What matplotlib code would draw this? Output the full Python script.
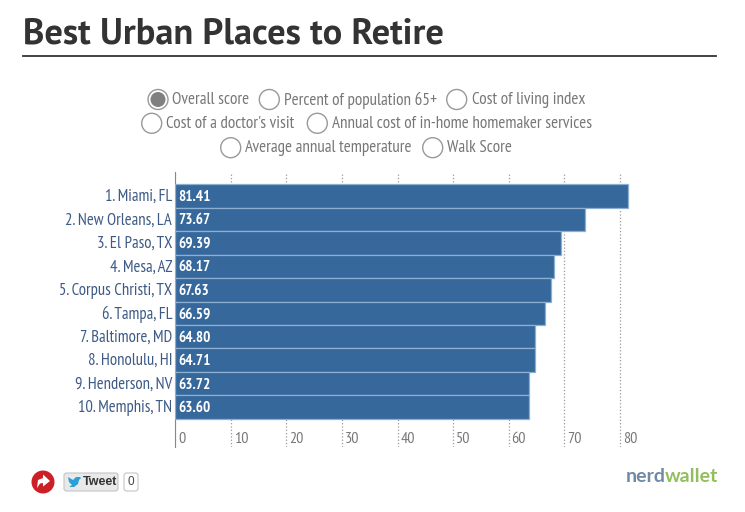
import matplotlib
matplotlib.use('Agg')
import matplotlib.pyplot as plt
from matplotlib.patches import Circle, FancyBboxPatch, Polygon

cities = ['1. Miami, FL', '2. New Orleans, LA', '3. El Paso, TX', '4. Mesa, AZ', '5. Corpus Christi, TX',
          '6. Tampa, FL', '7. Baltimore, MD', '8. Honolulu, HI', '9. Henderson, NV', '10. Memphis, TN']
scores = [81.41, 73.67, 69.39, 68.17, 67.63, 66.59, 64.80, 64.71, 63.72, 63.60]
xticks = [0, 10, 20, 30, 40, 50, 60, 70, 80]
options = ['Overall score', 'Percent of population 65+', 'Cost of living index', "Cost of a doctor's visit",
           'Annual cost of in-home homemaker services', 'Average annual temperature', 'Walk Score']

W, H = 745, 512
narrow = ['PT Sans Narrow', 'Archivo Narrow', 'Liberation Sans', 'DejaVu Sans']
wide = ['PT Sans', 'Open Sans', 'DejaVu Sans']
bar_color = '#36689c'

fig = plt.figure(figsize=(W / 100, H / 100), dpi=100)

# overlay in pixel coordinates for the page furniture
page = fig.add_axes([0, 0, 1, 1])
page.set_xlim(0, W)
page.set_ylim(H, 0)
page.axis('off')

page.text(23, 33.5, 'Best Urban Places to Retire', fontsize=26.2, fontweight='bold', family=wide,
          color='#333333', va='center', ha='left')
page.plot([23, 716], [55.5, 55.5], color='#333333', lw=1.3)

# radio buttons
radios = [(158, 99.5, 172), (269.3, 99.5, 284), (456.7, 99.5, 471.7), (151.7, 123.3, 165.7),
          (317.3, 123.3, 331.7), (230.7, 147.7, 245), (432.7, 147.7, 447)]
for i, (cx, cy, tx) in enumerate(radios):
    page.add_patch(Circle((cx, cy), 10, fc='white', ec='#999999', lw=1))
    if i == 0:
        page.add_patch(Circle((cx, cy), 7.5, fc='#808080', ec='none'))
    page.text(tx, cy + 0.8, options[i], fontsize=12.25, family=narrow, color='#777777', va='center', ha='left')

# chart
left, right, top, bottom = 175.2, 640, 172, 447
ax = fig.add_axes([left / W, 1 - bottom / H, (right - left) / W, (bottom - top) / H])
ax.patch.set_alpha(0)
ax.set_xlim(0, (right - left) / 5.56)
ax.set_ylim(10.707, -1.025)
ax.barh(range(len(scores)), scores, height=1, color=bar_color, edgecolor='#8db0d2', linewidth=0.9, zorder=3)
ax.set_xticks(xticks)
ax.set_yticks([])
ax.tick_params(length=0, labelbottom=False)
ax.grid(axis='x', color='#999999', linestyle=':', linewidth=0.9, zorder=1)
for s in ['top', 'right', 'bottom']:
    ax.spines[s].set_visible(False)
ax.spines['left'].set_color('#888888')

for i, (c, v) in enumerate(zip(cities, scores)):
    ax.annotate(c, (0, i), xytext=(-2.2, -0.7), textcoords='offset points', ha='right', va='center',
                fontsize=12, family=narrow, color='#3d5a86')
    ax.annotate('%.2f' % v, (0, i), xytext=(2, -0.7), textcoords='offset points', ha='left', va='center',
                fontsize=11, family=narrow, fontweight='bold', color='white', zorder=4)
for t in xticks:
    ax.annotate(str(t), (t, 10.707), xytext=(2, 5.8), textcoords='offset points', ha='left', va='center',
                fontsize=11.5, family=narrow, color='#777777')

# share buttons
page.add_patch(Circle((43, 482), 11.5, fc='#cc2027', ec='none'))
page.add_patch(Polygon([(37, 488), (38, 480), (43, 478), (43, 474.5), (50, 481), (43, 486.5), (43, 483), (40, 483.5)],
                       fc='white', ec='none'))
page.add_patch(FancyBboxPatch((64, 473), 54, 18, boxstyle='round,pad=0,rounding_size=2.5', fc='#e9e9e9', ec='#c4c4c4', lw=0.8))
page.add_patch(Polygon([(68, 477), (73, 480), (76, 477), (80, 477), (81, 478), (79, 480), (78, 484), (74, 487),
                        (69, 487), (72, 485), (69, 482)], fc='#2a9fd8', ec='none'))
page.text(83, 482, 'Tweet', fontsize=9, fontweight='bold', family='Liberation Sans', color='#333333', va='center')
page.add_patch(FancyBboxPatch((124, 473), 14, 18, boxstyle='round,pad=0,rounding_size=2.5', fc='white', ec='#c4c4c4', lw=0.8))
page.text(131, 482, '0', fontsize=8.5, family='Liberation Sans', color='#444444', va='center', ha='center')

# logo
page.text(626, 476, 'nerd', fontsize=14, fontweight='bold', family='Lato', color='#6f8aa5', va='center')
page.text(664.5, 476, 'wallet', fontsize=14, fontweight='bold', family='Lato', color='#93bd5e', va='center')

fig.savefig('out.png', dpi=100)
